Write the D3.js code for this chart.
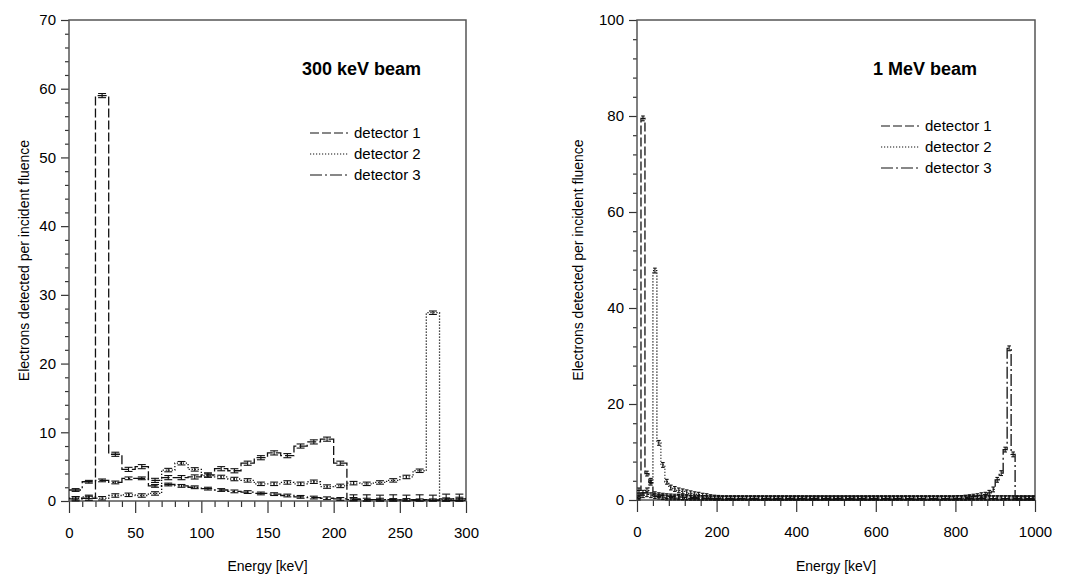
<!DOCTYPE html>
<html>
<head>
<meta charset="utf-8">
<script src="https://cdn.jsdelivr.net/npm/d3@7"></script>
<style>
body { margin: 0; background: #fff; }
svg { display: block; font-family: Arial, "Liberation Sans", sans-serif; }
</style>
</head>
<body>
<svg id="chart" width="1066" height="574"></svg>
<script>
const seriesNames = ["detector 1", "detector 2", "detector 3"];

// 300 keV beam, 10 keV bins
const lowEdges = [0, 10, 20, 30, 40, 50, 60, 70, 80, 90, 100, 110, 120, 130, 140, 150, 160, 170, 180, 190,
  200, 210, 220, 230, 240, 250, 260, 270, 280, 290, 300];
const det1Low = [0.3, 0.4, 59.0, 6.8, 4.6, 5.0, 3.0, 3.4, 3.4, 3.5, 3.8, 4.7, 4.4, 5.5, 6.3, 7.0, 6.6, 8.0, 8.6, 9.0,
  5.5, 0.2, 0.2, 0.15, 0.2, 0.15, 0.2, 0.15, 0.3, 0.3];
const det2Low = [0.4, 0.6, 0.4, 0.8, 0.9, 0.8, 1.1, 4.5, 5.5, 4.6, 3.7, 3.5, 3.2, 3.0, 2.5, 2.5, 2.7, 2.5, 2.8, 2.1,
  2.2, 2.6, 2.5, 2.7, 3.0, 3.5, 4.4, 27.4, 0.2, 0.3];
const det3Low = [1.6, 2.8, 3.0, 2.7, 3.3, 3.3, 2.2, 2.4, 2.2, 2.0, 1.8, 1.6, 1.4, 1.3, 1.1, 1.0, 0.8, 0.6, 0.5, 0.4,
  0.3, 0.3, 0.2, 0.2, 0.15, 0.15, 0.1, 0.1, 0.1, 0.1];
const err1Low = [0.3, 0.3, 0.3, 0.3, 0.3, 0.3, 0.3, 0.3, 0.3, 0.3, 0.3, 0.3, 0.3, 0.3, 0.3, 0.3, 0.3, 0.3, 0.3, 0.3,
  0.3, 0.7, 0.7, 0.7, 0.7, 0.7, 0.7, 0.7, 0.7, 0.7];
const err2Low = [0.25, 0.25, 0.25, 0.25, 0.25, 0.25, 0.25, 0.25, 0.25, 0.25, 0.25, 0.25, 0.25, 0.25, 0.25, 0.25, 0.25, 0.25, 0.25, 0.25,
  0.25, 0.25, 0.25, 0.25, 0.25, 0.25, 0.25, 0.25, 0.25, 0.25];
const err3Low = [0.2, 0.2, 0.2, 0.2, 0.2, 0.2, 0.2, 0.2, 0.2, 0.2, 0.2, 0.2, 0.2, 0.2, 0.2, 0.2, 0.2, 0.2, 0.2, 0.2,
  0.2, 0.2, 0.2, 0.2, 0.2, 0.2, 0.2, 0.2, 0.2, 0.2];

// 1 MeV beam, 10 keV bins
const highEdges = [0, 10, 20, 30, 40, 50, 60, 70, 80, 90, 100, 110, 120, 130, 140, 150, 160, 170, 180, 190,
  200, 210, 220, 230, 240, 250, 260, 270, 280, 290, 300, 310, 320, 330, 340, 350, 360, 370, 380, 390,
  400, 410, 420, 430, 440, 450, 460, 470, 480, 490, 500, 510, 520, 530, 540, 550, 560, 570, 580, 590,
  600, 610, 620, 630, 640, 650, 660, 670, 680, 690, 700, 710, 720, 730, 740, 750, 760, 770, 780, 790,
  800, 810, 820, 830, 840, 850, 860, 870, 880, 890, 900, 910, 920, 930, 940, 950, 960, 970, 980, 990, 1000];
const det1High = [2.0, 79.5, 5.5, 3.6, 1.2, 1.0, 0.9, 0.8, 0.75, 0.7, 0.65, 0.6, 0.55, 0.5, 0.5, 0.45, 0.4, 0.4, 0.35, 0.35,
  0.3, 0.3, 0.3, 0.3, 0.3, 0.3, 0.3, 0.3, 0.3, 0.3, 0.3, 0.3, 0.3, 0.3, 0.3, 0.3, 0.3, 0.3, 0.3, 0.3,
  0.3, 0.3, 0.3, 0.3, 0.3, 0.3, 0.3, 0.3, 0.3, 0.3, 0.3, 0.3, 0.3, 0.3, 0.3, 0.3, 0.3, 0.3, 0.3, 0.3,
  0.3, 0.3, 0.3, 0.3, 0.3, 0.3, 0.3, 0.3, 0.3, 0.3, 0.3, 0.3, 0.3, 0.3, 0.3, 0.3, 0.3, 0.3, 0.3, 0.3,
  0.3, 0.3, 0.3, 0.3, 0.3, 0.3, 0.3, 0.3, 0.3, 0.3, 0.3, 0.3, 0.3, 0.3, 0.3, 0.3, 0.3, 0.3, 0.3, 0.3];
const det2High = [0.5, 1.0, 2.0, 4.0, 47.8, 11.9, 7.3, 3.8, 2.6, 2.3, 2.0, 1.8, 1.6, 1.4, 1.2, 1.1, 0.9, 0.8, 0.6, 0.5,
  0.45, 0.4, 0.4, 0.4, 0.4, 0.4, 0.4, 0.4, 0.4, 0.4, 0.4, 0.4, 0.4, 0.4, 0.4, 0.4, 0.4, 0.4, 0.4, 0.4,
  0.4, 0.4, 0.4, 0.4, 0.4, 0.4, 0.4, 0.4, 0.4, 0.4, 0.4, 0.4, 0.4, 0.4, 0.4, 0.4, 0.4, 0.4, 0.4, 0.4,
  0.4, 0.4, 0.4, 0.4, 0.4, 0.4, 0.4, 0.4, 0.4, 0.4, 0.4, 0.4, 0.4, 0.4, 0.4, 0.4, 0.4, 0.4, 0.4, 0.4,
  0.4, 0.4, 0.4, 0.4, 0.4, 0.4, 0.4, 0.4, 0.4, 0.4, 0.4, 0.4, 0.4, 0.4, 0.4, 0.4, 0.4, 0.4, 0.4, 0.4];
const det3High = [0.8, 1.5, 1.2, 1.0, 0.8, 0.7, 0.6, 0.5, 0.5, 0.4, 0.4, 0.4, 0.35, 0.35, 0.3, 0.3, 0.3, 0.3, 0.3, 0.3,
  0.2, 0.2, 0.2, 0.2, 0.2, 0.2, 0.2, 0.2, 0.2, 0.2, 0.2, 0.2, 0.2, 0.2, 0.2, 0.2, 0.2, 0.2, 0.2, 0.2,
  0.2, 0.2, 0.2, 0.2, 0.2, 0.2, 0.2, 0.2, 0.2, 0.2, 0.2, 0.2, 0.2, 0.2, 0.2, 0.2, 0.2, 0.2, 0.2, 0.2,
  0.2, 0.2, 0.2, 0.2, 0.2, 0.2, 0.2, 0.2, 0.2, 0.2, 0.2, 0.2, 0.2, 0.2, 0.2, 0.2, 0.2, 0.2, 0.2, 0.2,
  0.4, 0.4, 0.5, 0.6, 0.7, 0.8, 1.0, 1.1, 1.5, 2.2, 4.2, 5.6, 10.5, 31.6, 9.5, 0.2, 0.2, 0.2, 0.2, 0.2];
const errHigh = [0.5, 0.5, 0.5];

// axis ticks
const lowXMajor = [0, 50, 100, 150, 200, 250, 300];
const lowXMinor = [10, 20, 30, 40, 60, 70, 80, 90, 110, 120, 130, 140, 160, 170, 180, 190, 210, 220, 230, 240, 260, 270, 280, 290];
const lowYMajor = [0, 10, 20, 30, 40, 50, 60, 70];
const lowYMinor = [2, 4, 6, 8, 12, 14, 16, 18, 22, 24, 26, 28, 32, 34, 36, 38, 42, 44, 46, 48, 52, 54, 56, 58, 62, 64, 66, 68];
const highXMajor = [0, 200, 400, 600, 800, 1000];
const highXMinor = [40, 80, 120, 160, 240, 280, 320, 360, 440, 480, 520, 560, 640, 680, 720, 760, 840, 880, 920, 960];
const highYMajor = [0, 20, 40, 60, 80, 100];
const highYMinor = [4, 8, 12, 16, 24, 28, 32, 36, 44, 48, 52, 56, 64, 68, 72, 76, 84, 88, 92, 96];

const dashes = ["9,3", "1.2,1.8", "12,3,2,3"];
const svg = d3.select("#chart");

function drawPanel(p) {
  const x = d3.scaleLinear().domain(p.xDomain).range([p.left, p.right]);
  const y = d3.scaleLinear().domain(p.yDomain).range([p.bottom, p.top]);
  const g = svg.append("g");

  // ticks (minor first, then major with labels)
  g.append("g").attr("transform", `translate(0,${p.bottom})`)
    .call(d3.axisBottom(x).tickValues(p.xMinor).tickSize(6).tickFormat(""));
  g.append("g").attr("transform", `translate(0,${p.bottom})`)
    .call(d3.axisBottom(x).tickValues(p.xMajor).tickSize(12).tickPadding(14).tickFormat(d3.format("d")));
  g.append("g").attr("transform", `translate(${p.left},0)`)
    .call(d3.axisLeft(y).tickValues(p.yMinor).tickSize(4).tickFormat(""));
  g.append("g").attr("transform", `translate(${p.left},0)`)
    .call(d3.axisLeft(y).tickValues(p.yMajor).tickSize(8).tickPadding(5).tickFormat(d3.format("d")));
  g.selectAll(".domain").remove();
  g.selectAll(".tick line").attr("stroke", "#333").attr("stroke-width", 1.2);
  g.selectAll(".tick text").attr("font-size", 15).attr("fill", "#000")
    .attr("font-family", "Arial, 'Liberation Sans', sans-serif");

  // frame
  g.append("rect")
    .attr("x", p.left).attr("y", p.top)
    .attr("width", p.right - p.left).attr("height", p.bottom - p.top)
    .attr("fill", "none").attr("stroke", "#555").attr("stroke-width", 1.5);

  const edges = p.edges;
  const binPx = x(edges[1]) - x(edges[0]);
  const cap = binPx * p.capFrac;

  p.series.forEach((vals, si) => {
    const pts = [];
    vals.forEach((v, i) => { pts.push([edges[i], v]); pts.push([edges[i + 1], v]); });
    const line = d3.line().x(d => x(d[0])).y(d => y(d[1]));
    g.append("path")
      .datum(pts)
      .attr("d", line)
      .attr("fill", "none")
      .attr("stroke", "#111")
      .attr("stroke-width", 1.3)
      .attr("stroke-dasharray", dashes[si]);

    // error bars at bin centres
    const eb = g.append("g").attr("stroke", "#111").attr("stroke-width", 1.1);
    vals.forEach((v, i) => {
      const e = p.errors[si][i];
      const cx = x((edges[i] + edges[i + 1]) / 2);
      const hi = y(v + e);
      const lo = y(Math.max(0, v - e));
      eb.append("line").attr("x1", cx).attr("x2", cx).attr("y1", hi).attr("y2", lo);
      eb.append("line").attr("x1", cx - cap / 2).attr("x2", cx + cap / 2).attr("y1", hi).attr("y2", hi);
      eb.append("line").attr("x1", cx - cap / 2).attr("x2", cx + cap / 2).attr("y1", lo).attr("y2", lo);
    });
  });

  // title and legend
  g.append("text").attr("x", p.titleX).attr("y", p.titleY)
    .attr("font-size", 18).attr("font-weight", "bold").text(p.title);
  seriesNames.forEach((name, i) => {
    const ly = p.legendY + i * 21;
    g.append("line")
      .attr("x1", p.titleX + 8).attr("x2", p.titleX + 46)
      .attr("y1", ly).attr("y2", ly)
      .attr("stroke", "#111").attr("stroke-width", 1.2)
      .attr("stroke-dasharray", dashes[i]);
    g.append("text").attr("x", p.titleX + 52).attr("y", ly + 5)
      .attr("font-size", 15).text(name);
  });

  // axis titles
  g.append("text")
    .attr("x", (p.left + p.right) / 2).attr("y", 571)
    .attr("text-anchor", "middle").attr("font-size", 14)
    .text("Energy [keV]");
  g.append("text")
    .attr("transform", `translate(${p.yTitleX},${(p.top + p.bottom) / 2}) rotate(-90)`)
    .attr("text-anchor", "middle").attr("dominant-baseline", "central")
    .attr("font-size", 14)
    .text("Electrons detected per incident fluence");
}

drawPanel({
  left: 69, right: 466, top: 20, bottom: 501,
  xDomain: [0, 300], yDomain: [0, 70],
  xMajor: lowXMajor, xMinor: lowXMinor, yMajor: lowYMajor, yMinor: lowYMinor,
  edges: lowEdges, series: [det1Low, det2Low, det3Low], errors: [err1Low, err2Low, err3Low],
  capFrac: 0.6, title: "300 keV beam", titleX: 302, titleY: 75, legendY: 133, yTitleX: 24
});

drawPanel({
  left: 637, right: 1035, top: 20, bottom: 500,
  xDomain: [0, 1000], yDomain: [0, 100],
  xMajor: highXMajor, xMinor: highXMinor, yMajor: highYMajor, yMinor: highYMinor,
  edges: highEdges, series: [det1High, det2High, det3High],
  errors: [det1High.map(() => errHigh[0]), det2High.map(() => errHigh[1]), det3High.map(() => errHigh[2])],
  capFrac: 0.9, title: "1 MeV beam", titleX: 873, titleY: 75, legendY: 126, yTitleX: 578
});
</script>
</body>
</html>
